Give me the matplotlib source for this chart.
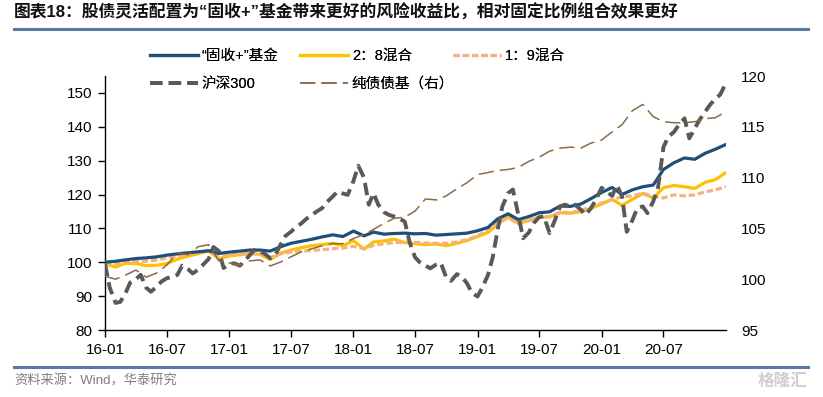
import matplotlib
matplotlib.use("Agg")
import matplotlib.pyplot as plt
import matplotlib.dates as mdates
import pandas as pd
from matplotlib.lines import Line2D

plt.rcParams["font.family"] = ["Liberation Sans", "Noto Sans CJK SC", "DejaVu Sans"]

# ---- data ----
MONTHS = pd.date_range("2016-01-01", periods=61, freq="MS")
HALF_MONTHS = pd.date_range("2016-01-01", "2021-01-01", freq="SMS")

fixed_plus = [
    100.0, 100.3, 100.7, 101.1, 101.3, 101.6, 102.1, 102.5, 102.8, 103.1,
    103.4, 102.6, 103.0, 103.3, 103.6, 103.6, 103.3, 104.6, 105.6, 106.2,
    106.8, 107.5, 108.1, 107.6, 109.2, 107.8, 108.9, 108.3, 108.5, 108.6,
    108.4, 108.5, 108.0, 108.2, 108.4, 108.6, 109.3, 110.3, 112.8, 114.3,
    112.6, 113.5, 114.6, 114.9, 116.6, 116.5, 117.2, 118.8, 120.6, 122.1,
    120.0, 121.4, 122.3, 122.8, 127.4, 129.4, 130.8, 130.4, 132.2, 133.4,
    134.8,
]
mix_28 = [
    99.6, 98.6, 99.7, 99.6, 99.0, 99.1, 99.6, 100.9, 101.8, 102.5,
    103.3, 101.0, 101.9, 102.2, 102.6, 102.3, 100.8, 102.7, 103.6, 104.3,
    104.9, 105.2, 105.6, 104.9, 106.4, 103.9, 106.0, 106.3, 106.8, 105.8,
    105.5, 105.2, 105.4, 104.9, 105.6, 106.4, 107.6, 108.8, 111.2, 113.5,
    111.4, 112.4, 113.3, 113.4, 114.6, 114.5, 114.9, 115.9, 117.2, 118.6,
    116.8, 118.6, 120.3, 119.0, 122.0, 122.7, 122.3, 121.8, 123.6, 124.4,
    126.5,
]
mix_19 = [
    100.0, 99.6, 100.2, 100.2, 100.3, 100.7, 101.3, 101.8, 102.4, 102.9,
    103.4, 101.6, 102.2, 102.4, 102.6, 102.4, 101.4, 102.5, 103.0, 103.3,
    103.5, 103.7, 104.0, 104.2, 104.7, 104.0, 105.0, 105.5, 105.8, 105.9,
    105.9, 105.7, 105.6, 105.6, 106.0, 106.7, 107.8, 109.6, 111.8, 113.0,
    111.6, 112.3, 113.2, 113.5, 114.8, 114.6, 115.3, 116.3, 117.5, 118.5,
    119.3, 119.6, 120.4, 119.4, 119.0, 119.9, 119.6, 119.9, 120.8, 121.4,
    122.3,
]
bond_fund = [
    100.3, 100.0, 100.4, 100.9, 100.2, 100.6, 101.4, 102.6, 102.4, 103.2,
    103.4, 101.8, 101.6, 101.4, 101.8, 101.9, 101.3, 101.7, 102.2, 102.7,
    103.0, 103.3, 103.5, 103.5, 104.0, 104.4, 104.9, 105.5, 106.0, 106.1,
    106.7, 107.9, 107.8, 108.2, 108.9, 109.5, 110.3, 110.5, 110.7, 110.8,
    111.0, 111.6, 112.0, 112.6, 112.9, 113.0, 112.9, 113.4, 113.7, 114.5,
    115.2, 116.6, 117.2, 116.0, 115.5, 115.4, 115.4, 115.5, 115.8, 115.9,
    116.5,
]
csi300 = [
    99.5, 92.5, 88.0, 88.3, 90.8, 94.0, 95.0, 96.3, 92.5, 91.3,
    92.8, 94.3, 95.3, 95.6, 96.3, 99.0, 98.0, 96.7, 97.8, 99.2,
    101.0, 104.5, 103.3, 98.3, 99.5, 99.7, 99.0, 100.5, 102.0, 103.6,
    103.2, 102.5, 101.2, 102.0, 105.3, 107.8, 109.0, 110.3, 111.5, 112.8,
    114.0, 115.0, 116.0, 117.8, 119.4, 120.9, 120.3, 119.9, 124.0, 128.5,
    125.0, 117.0, 120.4, 117.0, 114.8, 114.0, 113.5, 113.0, 112.0, 106.0,
    101.5, 100.0, 99.0, 98.2, 99.3, 99.8, 95.5, 94.5, 96.5, 95.8,
    93.8, 91.0, 89.9, 92.5, 96.3, 101.6, 109.5, 116.5, 120.4, 121.5,
    114.0, 107.1, 108.8, 111.5, 113.3, 113.6, 108.6, 112.0, 116.5, 117.0,
    116.5, 117.0, 115.5, 114.0, 116.0, 118.4, 122.0, 121.0, 119.6, 122.8,
    119.5, 109.0, 112.5, 116.0, 116.5, 114.5, 118.0, 122.0, 134.0, 137.0,
    138.5, 140.5, 142.5, 136.6, 139.5, 142.0, 144.5, 146.5, 148.3, 149.5,
    153.0,
]

labels = ["\u201c固收+\u201d基金", "2：8混合", "1：9混合", "沪深300", "纯债债基（右）"]
left_ticks = [80, 90, 100, 110, 120, 130, 140, 150]
right_ticks = [95, 100, 105, 110, 115, 120]
x_ticks = pd.date_range("2016-01-01", "2020-07-01", freq="6MS")

NAVY = "#1F4E79"
GOLD = "#FFC000"
PEACH = "#F4B183"
GREY = "#595959"
BROWN = "#8B6A44"
RULE = "#5B7BA6"

W, H = 823, 397
fig = plt.figure(figsize=(W / 100, H / 100), dpi=100)
ax = fig.add_axes([105 / W, 1 - 330 / H, (726 - 105) / W, (330 - 76) / H])

ln1, = ax.plot(MONTHS, fixed_plus, color=NAVY, lw=2.3, zorder=4)
ln2, = ax.plot(MONTHS, mix_28, color=GOLD, lw=2.3, zorder=3)
ln3, = ax.plot(MONTHS, mix_19, color=PEACH, lw=2.3, dashes=(2, 0.9), zorder=3)
ln4, = ax.plot(HALF_MONTHS, csi300, color=GREY, lw=2.8, dashes=(3.2, 1.6), zorder=5)

ax.set_xlim(pd.Timestamp("2016-01-01"), pd.Timestamp("2021-01-01"))
ax.set_ylim(80, 155)
ax.set_yticks(left_ticks)
ax.set_xticks(x_ticks)
ax.xaxis.set_major_formatter(mdates.DateFormatter("%y-%m"))
for s in ["top", "right"]:
    ax.spines[s].set_visible(False)
ax.spines["left"].set_linewidth(1.0)
ax.spines["bottom"].set_linewidth(1.0)
ax.tick_params(axis="both", direction="out", length=5, width=1.0,
               labelsize=11, pad=4, colors="black")

ax2 = ax.twinx()
ln5, = ax2.plot(MONTHS, bond_fund, color=BROWN, lw=1.1, dashes=(10, 4))
ax2.set_ylim(95, 120)
ax2.set_yticks(right_ticks)
for s in ax2.spines.values():
    s.set_visible(False)
ax2.tick_params(axis="y", length=0, labelsize=11, pad=11)

# legend: three columns placed like the reference
leg_kw = dict(frameon=False, fontsize=10.5, handlelength=3.3,
              handletextpad=0.25, labelspacing=0.95, borderpad=0,
              borderaxespad=0, loc="upper left")
cols = [([ln1, ln4], [labels[0], labels[3]], 150),
        ([ln2, ln5], [labels[1], labels[4]], 300),
        ([ln3], [labels[2]], 453)]
for handles, labs, xpx in cols:
    leg = fig.legend(handles, labs, bbox_to_anchor=(xpx / W, 1 - 49 / H), **leg_kw)
    fig.add_artist(leg)

# header / footer
fig.text(14 / W, 1 - 12 / H, "图表18：股债灵活配置为\u201c固收+\u201d基金带来更好的风险收益比，相对固定比例组合效果更好",
         fontsize=12.1, fontweight="bold", color="#111111", va="center", ha="left")
fig.add_artist(Line2D([14 / W, 808 / W], [1 - 29 / H, 1 - 29 / H], color=RULE, lw=2.2))
fig.add_artist(Line2D([14 / W, 808 / W], [1 - 367 / H, 1 - 367 / H], color=RULE, lw=2.2))
fig.text(14 / W, 1 - 381 / H, "资料来源：Wind，华泰研究", fontsize=9.5, color="#7F7F7F",
         va="center", ha="left")
fig.text(808 / W, 1 - 381 / H, "格隆汇", fontsize=12, color="#CFCFCF",
         va="center", ha="right", fontweight="bold")

fig.savefig("out.png", dpi=100)
